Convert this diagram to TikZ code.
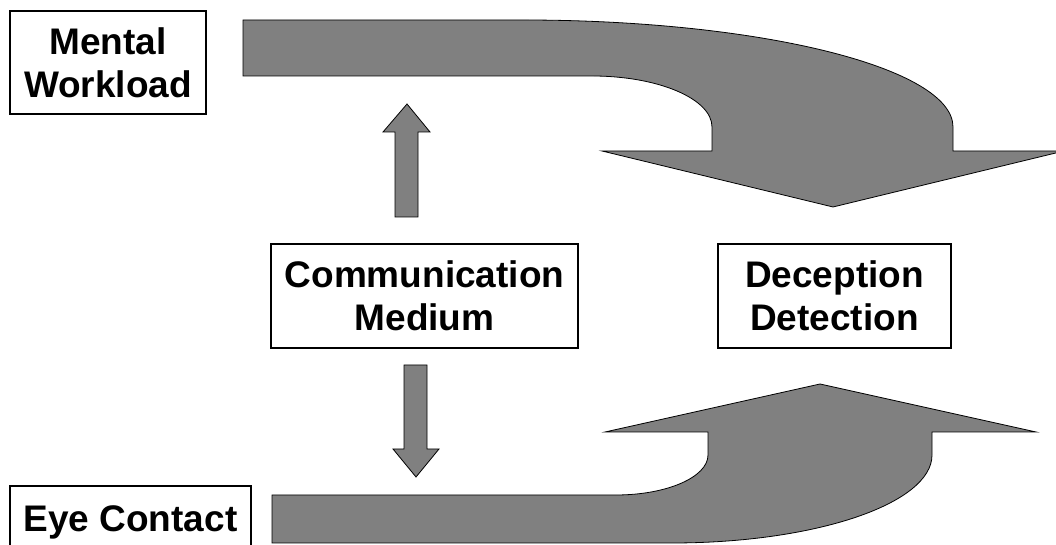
\documentclass[tikz,border=0pt]{standalone}
\usepackage{fontspec}
\setmainfont{Liberation Sans}

\begin{document}
\begin{tikzpicture}[x=1pt,y=1pt,
    factor/.style={draw,line width=1.5pt,align=center,inner sep=0pt,
      font=\bfseries\fontsize{37}{43}\selectfont},
    flow/.style={draw=black,line width=0.8pt,fill=black!50,line join=miter}]
  \useasboundingbox (0,0) rectangle (1056,545);

  % the four boxes (eye contact runs off the bottom edge)
  \draw (108,482.5) node[factor,minimum width=196pt,minimum height=103pt] (mental) {Mental\\Workload};
  \draw (130.5,22.5) node[factor,minimum width=241pt,minimum height=73pt] (eye) {Eye Contact};
  \draw (424.5,249) node[factor,minimum width=307pt,minimum height=104pt] (medium) {Communication\\Medium};
  \draw (834.5,249) node[factor,minimum width=233pt,minimum height=104pt] (detect) {Deception\\Detection};

  % upper band bends down into the detection box
  \draw[flow] (243,525) -- (523,525) arc[start angle=90,end angle=0,x radius=430,y radius=107]
    -- (953,394) -- (1064,394) -- (833,338) -- (602,394) -- (712,394) -- (712,418)
    arc[start angle=0,end angle=90,x radius=120,y radius=51] -- (243,469) -- cycle;

  % lower band bends up into the detection box
  \draw[flow] (272,2) -- (672,2) arc[start angle=-90,end angle=0,x radius=260,y radius=88]
    -- (932,113) -- (1036,113) -- (820,161) -- (605,113) -- (708,113) -- (708,90)
    arc[start angle=0,end angle=-90,x radius=92,y radius=40] -- (272,50) -- cycle;

  % medium acts on both bands
  \draw[flow] (395,328) -- (395,413) -- (383,413) -- (407,441) -- (430,413) -- (418,413) -- (418,328) -- cycle;
  \draw[flow] (404,180) -- (404,96) -- (393,96) -- (416,68) -- (439,96) -- (427,96) -- (427,180) -- cycle;
\end{tikzpicture}
\end{document}
